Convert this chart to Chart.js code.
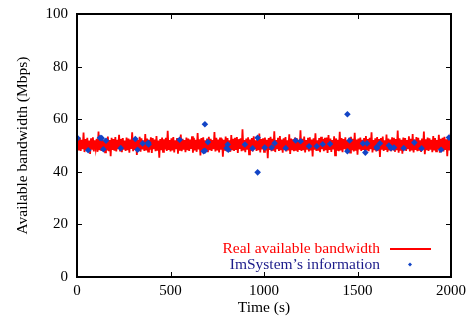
<!DOCTYPE html>
<html>
<head>
<meta charset="utf-8">
<script src="https://cdn.jsdelivr.net/npm/chart.js@4.4.1/dist/chart.umd.min.js"></script>
<style>
  html, body { margin: 0; padding: 0; background: #fff; }
  canvas { display: block; }
</style>
</head>
<body>
<canvas id="chart" width="469" height="327"></canvas>
<script>
// measured bandwidth, one sample every 5 s from 0 to 2000 s
const sampleStep = 5;
const realBandwidth = [
  49.8, 52.6, 48.1, 53.0, 47.9, 52.2, 48.6, 54.9, 47.5, 52.4,
  48.3, 52.9, 48.0, 51.9, 46.8, 52.7, 48.4, 53.1, 47.7, 52.0,
  48.9, 52.5, 47.6, 55.3, 48.2, 52.3, 47.9, 52.8, 48.5, 51.8,
  47.4, 52.6, 48.1, 53.4, 47.8, 52.1, 45.9, 52.9, 48.3, 52.4,
  48.0, 53.2, 47.7, 52.2, 48.6, 54.1, 48.1, 52.5, 47.5, 52.8,
  48.4, 51.9, 47.9, 53.0, 48.2, 52.6, 47.3, 52.3, 48.7, 55.0,
  47.8, 52.4, 48.3, 52.9, 46.4, 52.1, 48.0, 53.3, 47.6, 52.7,
  48.5, 52.0, 47.9, 54.4, 48.1, 52.6, 47.7, 52.2, 48.4, 53.1,
  47.2, 52.8, 48.6, 52.3, 47.8, 53.6, 48.0, 51.9, 45.4, 52.5,
  48.2, 53.0, 47.6, 52.4, 48.5, 52.9, 47.9, 55.6, 48.3, 52.1,
  47.7, 52.7, 48.1, 53.2, 47.4, 52.0, 48.6, 52.8, 46.9, 52.4,
  48.0, 54.2, 47.8, 52.5, 48.4, 52.1, 47.5, 53.0, 48.2, 52.6,
  47.9, 52.3, 48.7, 53.5, 47.3, 52.9, 48.1, 52.2, 47.6, 54.7,
  48.5, 52.4, 46.2, 52.8, 48.0, 53.1, 47.8, 52.0, 48.3, 52.7,
  47.5, 53.3, 48.2, 52.5, 47.9, 52.1, 48.6, 55.1, 47.7, 52.9,
  48.1, 52.3, 47.4, 53.0, 48.4, 52.6, 45.7, 52.2, 48.0, 53.4,
  47.8, 52.8, 48.5, 52.0, 47.6, 54.0, 48.2, 52.5, 47.9, 52.9,
  48.3, 53.2, 47.2, 52.4, 48.7, 52.7, 47.8, 56.2, 48.1, 52.1,
  47.5, 52.6, 48.4, 53.1, 46.6, 52.3, 48.0, 52.8, 47.7, 53.5,
  48.6, 52.0, 47.9, 52.9, 48.2, 54.5, 47.4, 52.4, 48.5, 52.7,
  47.6, 53.0, 48.1, 52.2, 45.2, 52.8, 48.3, 53.3, 47.8, 52.5,
  48.0, 55.4, 47.5, 52.1, 48.6, 52.9, 47.9, 53.6, 48.2, 52.3,
  47.3, 52.7, 48.4, 53.2, 47.7, 52.0, 48.1, 54.3, 46.8, 52.6,
  48.5, 52.4, 47.8, 53.0, 48.0, 52.8, 47.6, 52.2, 48.3, 55.8,
  47.9, 52.5, 48.2, 53.4, 47.4, 52.1, 48.7, 52.9, 47.7, 53.1,
  48.1, 52.3, 45.8, 52.7, 48.4, 54.6, 47.9, 52.0, 48.0, 52.8,
  47.5, 53.3, 48.6, 52.4, 47.8, 52.9, 48.2, 53.0, 47.2, 54.0,
  48.3, 52.6, 47.6, 52.1, 48.5, 53.5, 46.3, 52.7, 48.0, 52.2,
  47.8, 55.2, 48.1, 52.8, 47.5, 52.4, 48.6, 53.1, 47.9, 52.0,
  48.4, 52.9, 47.3, 53.3, 48.2, 52.5, 47.7, 54.8, 48.0, 52.3,
  46.5, 52.6, 48.5, 53.0, 47.9, 52.2, 48.3, 52.8, 47.6, 53.6,
  48.1, 52.4, 47.8, 52.9, 48.6, 55.0, 47.4, 52.1, 48.2, 52.7,
  47.7, 53.2, 48.0, 52.5, 45.6, 52.8, 48.4, 53.4, 47.9, 52.0,
  48.3, 54.2, 47.5, 52.6, 48.1, 52.3, 47.8, 53.1, 48.5, 52.9,
  47.6, 52.4, 48.2, 55.7, 47.3, 52.7, 48.0, 52.2, 46.9, 53.0,
  48.4, 52.8, 47.9, 52.1, 48.6, 53.5, 47.7, 52.5, 48.1, 54.4,
  47.4, 52.3, 48.3, 53.2, 47.8, 52.9, 48.0, 52.0, 47.6, 52.6,
  48.5, 55.3, 46.7, 52.4, 48.2, 53.0, 47.9, 52.7, 48.4, 52.2,
  47.5, 53.6, 48.1, 52.8, 47.8, 52.1, 48.6, 54.1, 47.3, 52.5,
  48.0, 52.9, 47.7, 53.3, 48.3, 52.4, 45.9, 52.6, 48.1, 52.0,
  49.6
];

// ImSystem reports (time in s, bandwidth in Mbps)
const imsTime = [
  3, 60, 123, 132, 141, 155, 234, 312, 324, 351, 381, 383, 549,
  677, 684, 684, 700, 800, 806, 809, 898, 939, 966, 966, 1004, 1041,
  1057, 1116, 1169, 1196, 1241, 1282, 1314, 1353, 1446, 1446, 1458,
  1529, 1542, 1551, 1603, 1604, 1620, 1668, 1679, 1695, 1747, 1804,
  1843, 1947, 1989
];
const imsValue = [
  52.8, 48.2, 52.9, 52.8, 48.6, 51.8, 49.0, 52.5, 48.4, 50.8, 51.0, 50.4, 52.2,
  47.8, 58.1, 48.0, 51.3, 49.0, 50.4, 48.4, 50.4, 48.9, 52.9, 39.8, 49.2, 49.2,
  50.9, 49.0, 51.9, 51.6, 49.7, 49.7, 50.5, 50.6, 61.9, 47.8, 51.9,
  50.8, 47.3, 50.8, 49.4, 49.0, 50.8, 50.0, 49.0, 49.2, 49.0, 51.1,
  48.9, 48.4, 53.0
];

const xTicks = [0, 500, 1000, 1500, 2000];
const yTicks = [0, 20, 40, 60, 80, 100];
const seriesNames = ["Real available bandwidth", "ImSystem\u2019s information"];
const legendTextColors = ["#ff0000", "#1c1c8a"];

const serif = "'Liberation Serif', 'Times New Roman', serif";

const realPoints = realBandwidth.map((v, i) => ({ x: i * sampleStep, y: v }));
const imsPoints = imsTime.map((t, i) => ({ x: t, y: imsValue[i] }));

// box, inward ticks on all four sides and the legend
const framePlugin = {
  id: "frame",
  afterDraw(chart) {
    const ctx = chart.ctx;
    const a = chart.chartArea;
    const xs = chart.scales.x, ys = chart.scales.y;
    ctx.save();
    ctx.strokeStyle = "#000";
    ctx.lineWidth = 1;
    ctx.beginPath();
    xTicks.forEach(v => {
      const px = Math.round(xs.getPixelForValue(v)) + 0.5;
      ctx.moveTo(px, a.bottom); ctx.lineTo(px, a.bottom - 5);
      ctx.moveTo(px, a.top); ctx.lineTo(px, a.top + 5);
    });
    yTicks.forEach(v => {
      const py = Math.round(ys.getPixelForValue(v)) + 0.5;
      ctx.moveTo(a.left, py); ctx.lineTo(a.left + 5, py);
      ctx.moveTo(a.right, py); ctx.lineTo(a.right - 5, py);
    });
    ctx.stroke();
    ctx.lineWidth = 2;
    ctx.strokeRect(a.left, a.top, a.right - a.left, a.bottom - a.top);

    // legend, text right aligned with the sample on its right
    const ds = chart.data.datasets;
    ctx.font = "15.5px " + serif;
    ctx.textAlign = "right";
    ctx.textBaseline = "middle";
    ctx.fillStyle = legendTextColors[0];
    ctx.fillText(seriesNames[0], 380, 249);
    ctx.strokeStyle = ds[0].borderColor;
    ctx.lineWidth = 2;
    ctx.beginPath();
    ctx.moveTo(390, 249); ctx.lineTo(431, 249);
    ctx.stroke();
    ctx.fillStyle = legendTextColors[1];
    ctx.fillText(seriesNames[1], 380, 265);
    ctx.fillStyle = ds[1].backgroundColor;
    ctx.beginPath();
    ctx.moveTo(410, 262.5); ctx.lineTo(412, 264.5); ctx.lineTo(410, 266.5); ctx.lineTo(408, 264.5);
    ctx.closePath();
    ctx.fill();
    ctx.restore();
  }
};

new Chart(document.getElementById("chart"), {
  type: "scatter",
  data: {
    datasets: [
      {
        label: seriesNames[0],
        data: realPoints,
        showLine: true,
        borderColor: "#ff0000",
        backgroundColor: "#ff0000",
        borderWidth: 1.8,
        pointRadius: 0,
        tension: 0,
        order: 2
      },
      {
        label: seriesNames[1],
        data: imsPoints,
        showLine: false,
        pointStyle: "rectRot",
        pointRadius: 3.3,
        pointBorderWidth: 0,
        backgroundColor: "#1244c6",
        borderColor: "#1244c6",
        order: 1
      }
    ]
  },
  options: {
    responsive: false,
    animation: false,
    devicePixelRatio: 1,
    layout: { padding: { top: 14, right: 18, left: 0, bottom: 0 } },
    plugins: {
      legend: { display: false },
      tooltip: { enabled: false }
    },
    scales: {
      x: {
        type: "linear",
        min: 0,
        max: 2000,
        afterBuildTicks: s => { s.ticks = xTicks.map(v => ({ value: v })); },
        afterFit: s => { s.height = 50; s.paddingLeft = 0; s.paddingRight = 0; },
        grid: { display: false, drawTicks: false },
        border: { display: false },
        ticks: {
          padding: 5,
          color: "#000",
          font: { family: serif, size: 15 },
          maxRotation: 0,
          callback: v => String(v)
        },
        title: {
          display: true,
          text: "Time (s)",
          color: "#000",
          font: { family: serif, size: 15.5 },
          padding: { top: 0, bottom: 10 }
        }
      },
      y: {
        min: 0,
        max: 100,
        afterBuildTicks: s => { s.ticks = yTicks.map(v => ({ value: v })); },
        afterFit: s => { s.width = 77; s.paddingTop = 0; s.paddingBottom = 0; },
        grid: { display: false, drawTicks: false },
        border: { display: false },
        ticks: {
          padding: 9,
          color: "#000",
          font: { family: serif, size: 15 }
        },
        title: {
          display: true,
          text: "Available bandwidth (Mbps)",
          color: "#000",
          font: { family: serif, size: 15.5 },
          padding: { top: 14, bottom: 0 }
        }
      }
    }
  },
  plugins: [framePlugin]
});
</script>
</body>
</html>
